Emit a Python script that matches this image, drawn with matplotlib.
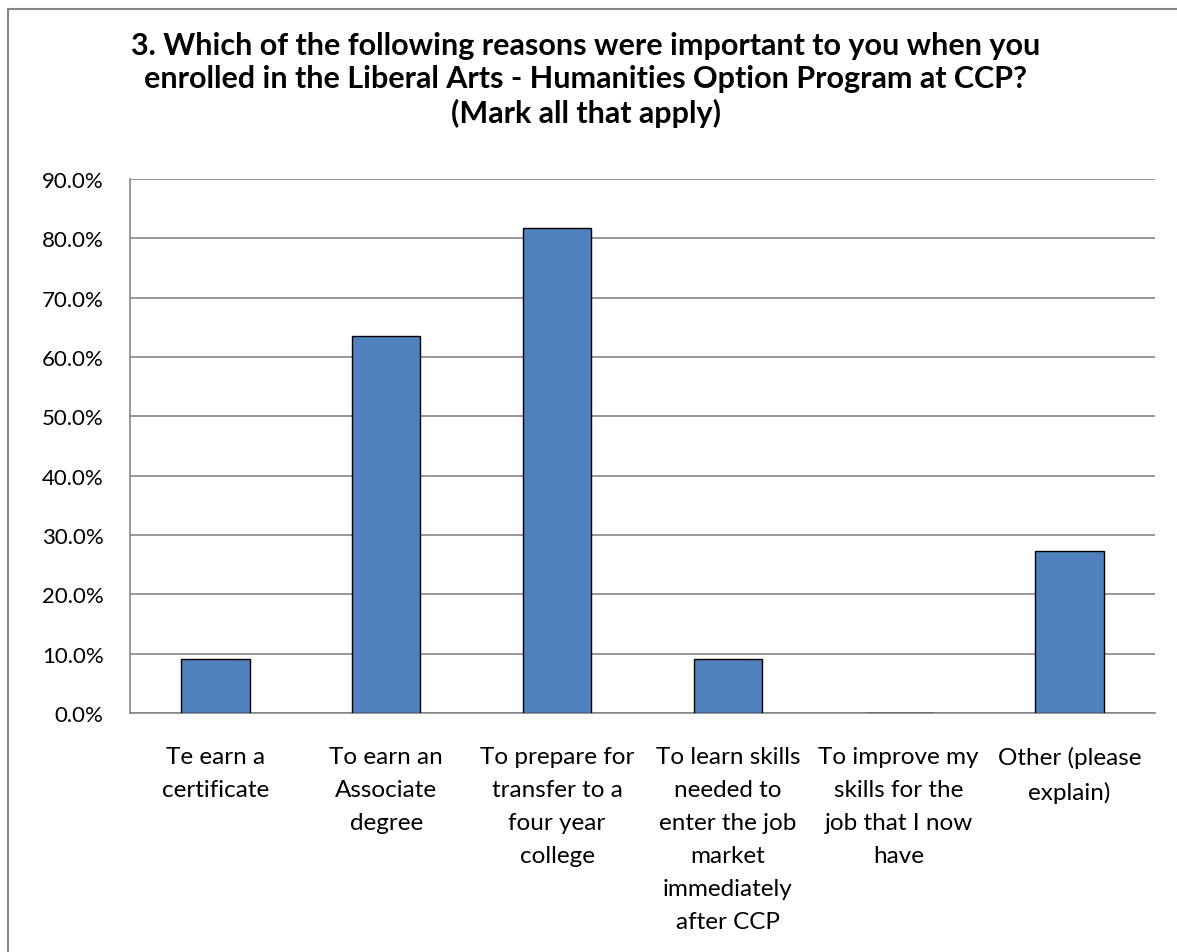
import matplotlib
matplotlib.use("Agg")
import matplotlib.pyplot as plt
from matplotlib.patches import Rectangle

categories = [
    "Te earn a\ncertificate",
    "To earn an\nAssociate\ndegree",
    "To prepare for\ntransfer to a\nfour year\ncollege",
    "To learn skills\nneeded to\nenter the job\nmarket\nimmediately\nafter CCP",
    "To improve my\nskills for the\njob that I now\nhave",
    "Other (please\nexplain)",
]
values = [9.1, 63.6, 81.8, 9.1, 0.0, 27.3]
yticks = [0, 10, 20, 30, 40, 50, 60, 70, 80, 90]
title = ("3. Which of the following reasons were important to you when you\n"
         "enrolled in the Liberal Arts - Humanities Option Program at CCP?\n"
         "(Mark all that apply)")

plt.rcParams['font.family'] = ['Lato', 'DejaVu Sans']

W, H = 1177, 953
fig = plt.figure(figsize=(W / 100, H / 100), dpi=100)
fig.patch.set_facecolor("white")

# outer chart frame (partly cut off at right and bottom)
fig.add_artist(Rectangle((8 / W, -0.1), 1.2, (H - 10) / H + 0.1,
                         transform=fig.transFigure, fill=False,
                         edgecolor="#878787", linewidth=1.5))

ax = fig.add_axes([130 / W, 1 - 714 / H, (1155 - 130) / W, (714 - 180) / H])
x = list(range(len(categories)))
ax.bar(x, values, width=0.40, color="#4F81BD", edgecolor="black",
       linewidth=1.0, zorder=3)
ax.set_xlim(-0.5, len(categories) - 0.5)
ax.set_ylim(0, 90)
ax.set_yticks(yticks)
ax.set_yticklabels([f"{v:.1f}%" for v in yticks])
ax.yaxis.grid(True, color="#868686", linewidth=1.2, zorder=0)
ax.set_axisbelow(True)
ax.set_xticks(x)
ax.set_xticklabels(categories, linespacing=1.70, va="top")
for s in ["top", "right"]:
    ax.spines[s].set_visible(False)
for s in ["left", "bottom"]:
    ax.spines[s].set_color("#868686")
    ax.spines[s].set_linewidth(1.2)
ax.tick_params(axis="y", length=0, pad=19, labelsize=16, colors="black")
ax.tick_params(axis="x", length=0, pad=24, labelsize=17.5, colors="black")

fig.text(0.4975, 1 - 80 / H, title, ha="center", va="center", fontsize=22,
         fontweight="bold", linespacing=1.22)

fig.savefig("out.png", dpi=100)
